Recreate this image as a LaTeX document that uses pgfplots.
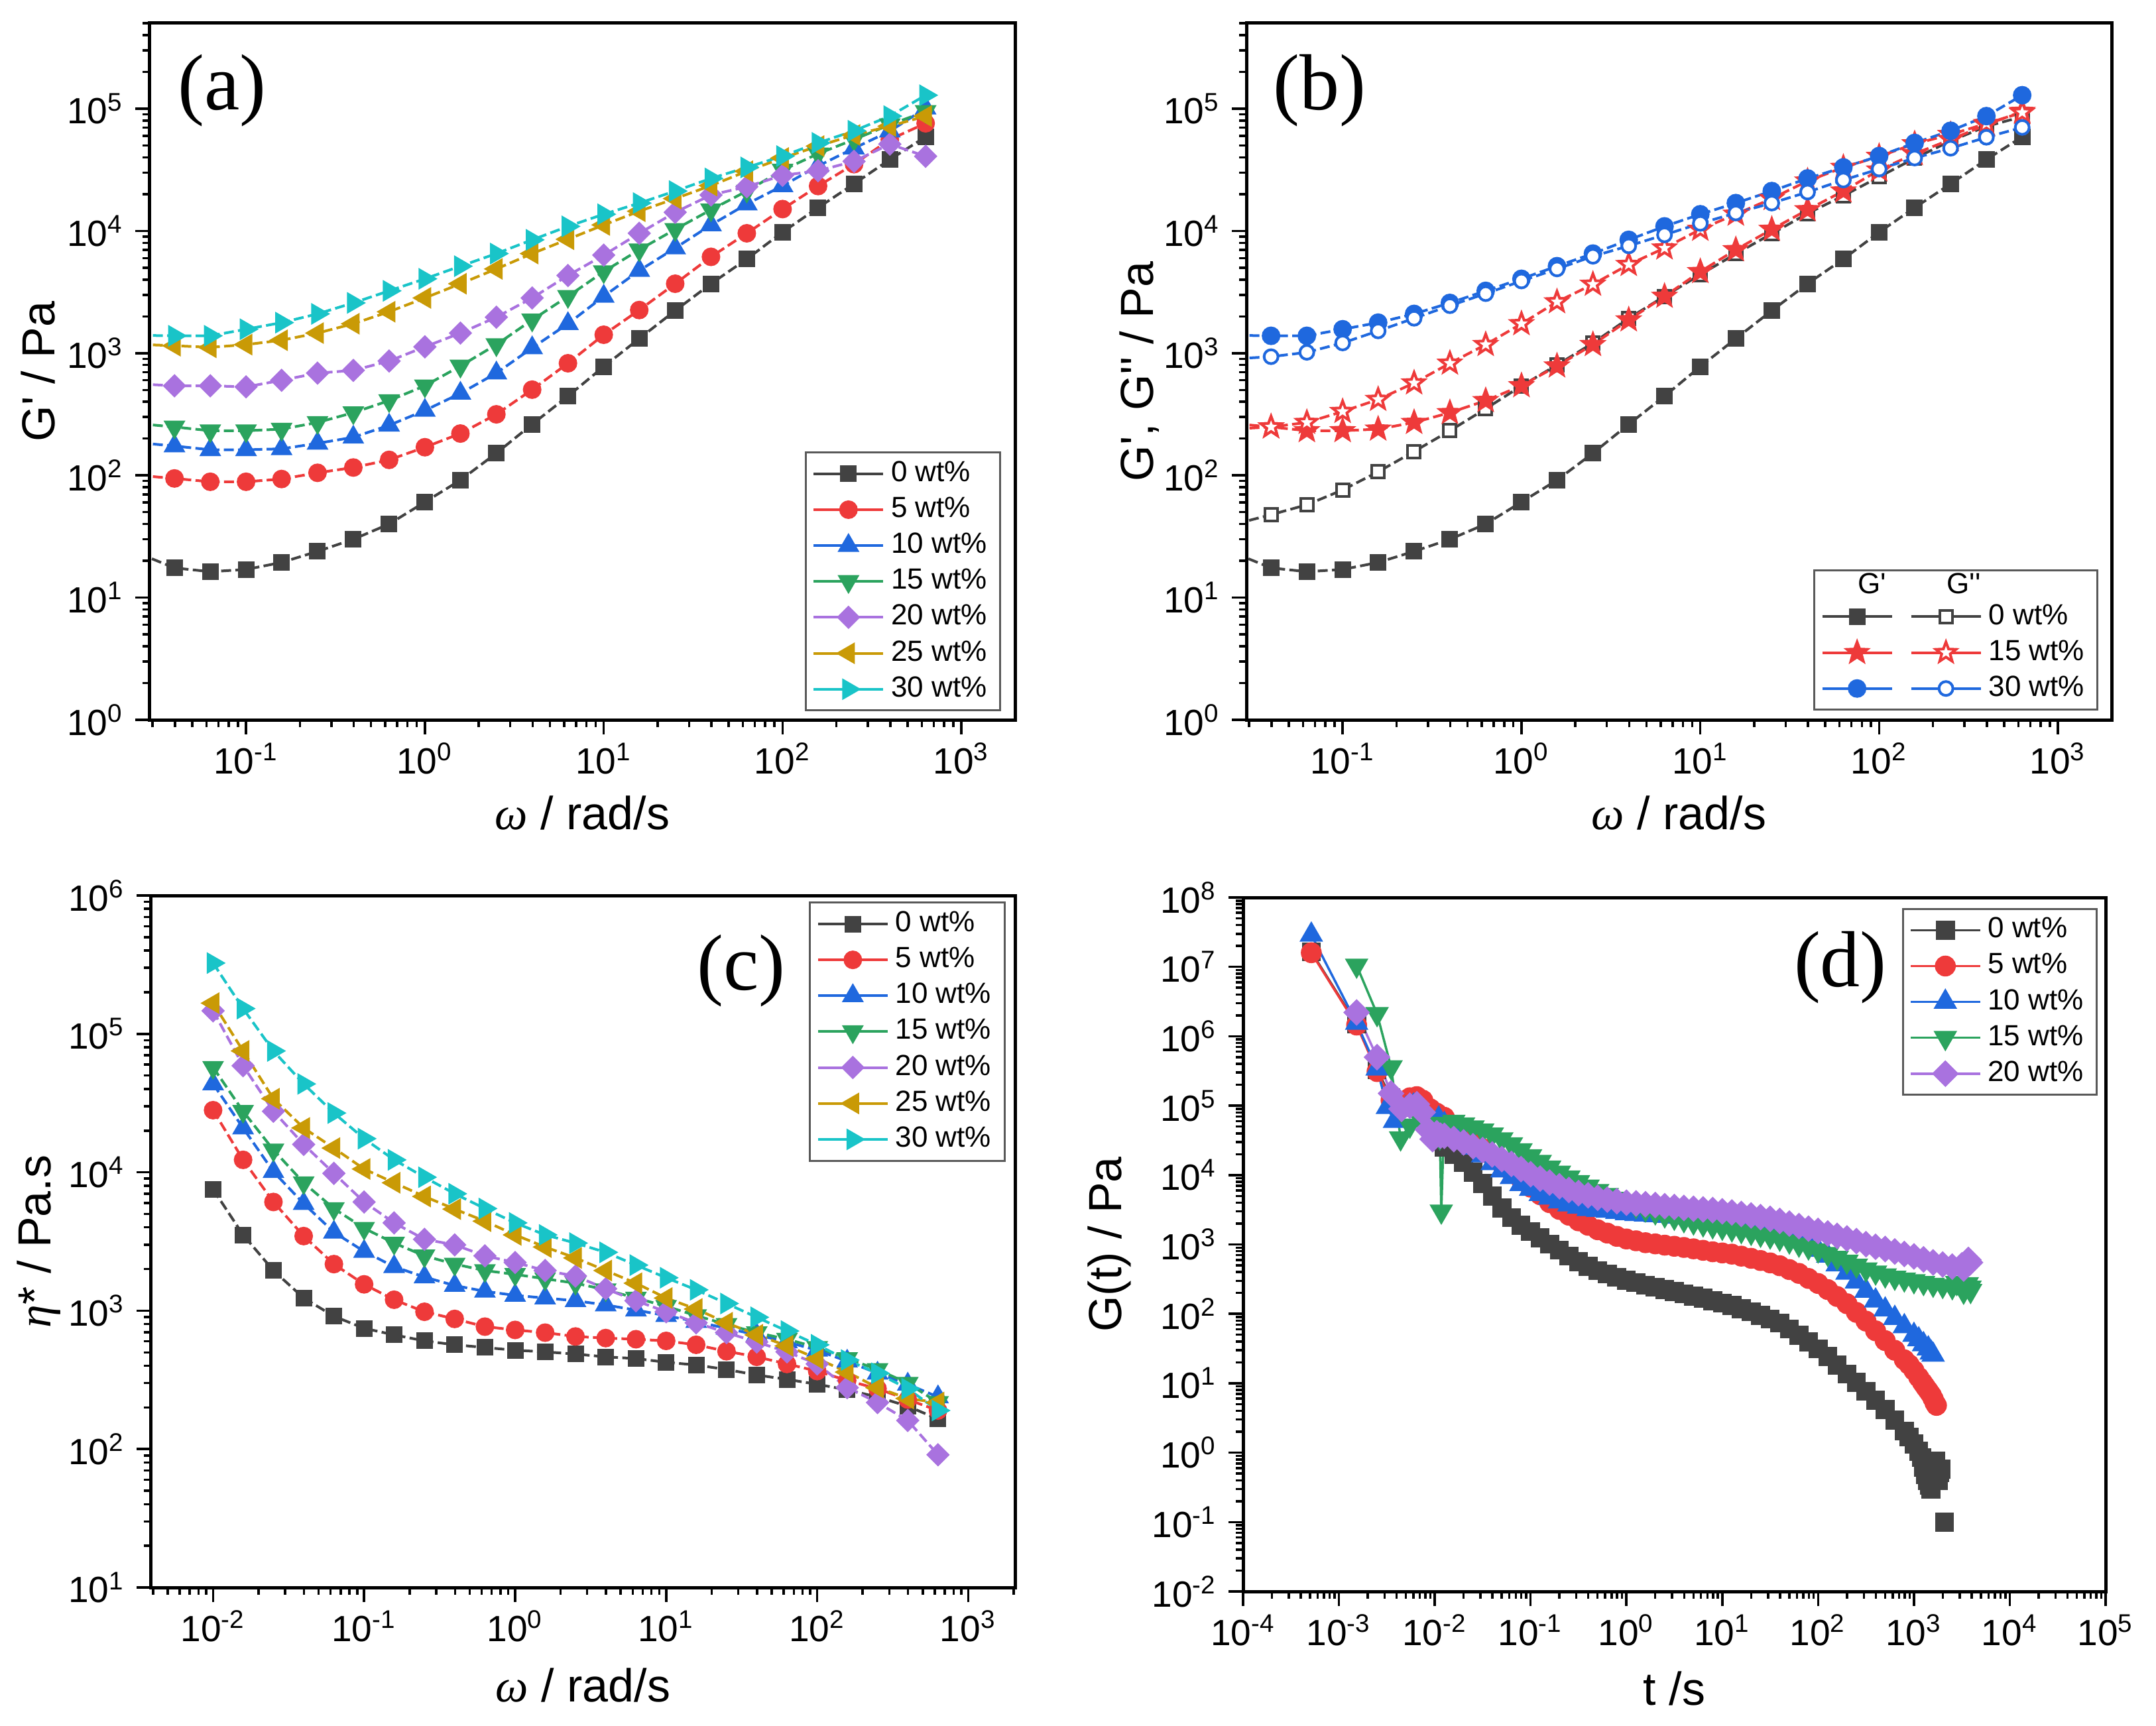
\documentclass[border=0pt]{standalone}
\usepackage{fontspec}
\setmainfont{Liberation Sans}
\newfontfamily\seriffont{Liberation Serif}
\usepackage{pgfplots}
\usepackage{pgfplotstable}
\pgfplotsset{compat=1.18}

\definecolor{cK}{HTML}{424242}
\definecolor{cR}{HTML}{EE3A3A}
\definecolor{cB}{HTML}{1F68DE}
\definecolor{cG}{HTML}{2BA35E}
\definecolor{cP}{HTML}{A972DF}
\definecolor{cY}{HTML}{C99A06}
\definecolor{cC}{HTML}{19C4C8}

\newcommand{\sx}[1]{10\textsuperscript{#1}}
\newcommand{\pr}{\textquotesingle}

\pgfdeclareplotmark{fstar}{%
  \pgfpathmoveto{\pgfpointpolar{90}{\pgfplotmarksize}}%
  \pgfpathlineto{\pgfpointpolar{126}{0.42\pgfplotmarksize}}%
  \pgfpathlineto{\pgfpointpolar{162}{\pgfplotmarksize}}%
  \pgfpathlineto{\pgfpointpolar{198}{0.42\pgfplotmarksize}}%
  \pgfpathlineto{\pgfpointpolar{234}{\pgfplotmarksize}}%
  \pgfpathlineto{\pgfpointpolar{270}{0.42\pgfplotmarksize}}%
  \pgfpathlineto{\pgfpointpolar{306}{\pgfplotmarksize}}%
  \pgfpathlineto{\pgfpointpolar{342}{0.42\pgfplotmarksize}}%
  \pgfpathlineto{\pgfpointpolar{18}{\pgfplotmarksize}}%
  \pgfpathlineto{\pgfpointpolar{54}{0.42\pgfplotmarksize}}%
  \pgfpathclose
  \pgfusepathqfillstroke}

\tikzset{
  dl/.style={line width=0.8pt, dash pattern=on 3pt off 1.3pt},
  sl/.style={line width=0.7pt, solid},
  sK/.style={color=cK, mark=square*, mark size=2.1pt, mark options={solid}},
  sR/.style={color=cR, mark=*, mark size=2.4pt, mark options={solid}},
  sB/.style={color=cB, mark=triangle*, mark size=3pt, mark options={solid}},
  sG/.style={color=cG, mark=triangle*, mark size=3pt, mark options={solid, rotate=180}},
  sP/.style={color=cP, mark=square*, mark size=2.1pt, mark options={solid, rotate=45}},
  sY/.style={color=cY, mark=triangle*, mark size=3pt, mark options={solid, rotate=90}},
  sC/.style={color=cC, mark=triangle*, mark size=3pt, mark options={solid, rotate=-90}},
  plabel/.style={font=\seriffont\fontsize{24}{27}\selectfont},
}

\pgfplotsset{
  rheo/.style={
    scale only axis,
    axis line style={line width=1pt, black},
    tick align=outside, tick pos=left,
    major tick length=4.4pt, minor tick length=2.2pt,
    every tick/.style={black, line width=0.7pt},
    tick label style={font=\fontsize{11}{12}\selectfont, black},
    xticklabel style={yshift=1pt},
    label style={font=\fontsize{14}{16}\selectfont},
    legend style={font=\fontsize{8.8}{10}\selectfont, draw=black!65, line width=0.6pt,
      inner xsep=2pt, inner ysep=1pt, cells={anchor=west},
      nodes={inner ysep=1.6pt}},
    legend image code/.code={\draw[mark repeat=2, mark phase=2, ##1, solid]
      plot coordinates {(0pt,0pt) (10.5pt,0pt) (21pt,0pt)};},
  },
}

% ---------------- panel (a): G' ----------------
\pgfplotstableread{
w      k0     k5     k10    k15    k20    k25    k30
0.0251 23     100    185    265    560    1180   1400
0.0398 17.5   94.4   174    249    541    1151   1387
0.0631 16.3   88.7   162    232    541    1116   1387
0.1    17.0   88.7   162    232    530    1175   1570
0.158  19.4   93.4   165    239    600    1276   1778
0.251  23.9   105    183    271    687    1460   2096
0.398  30     116    205    326    723    1741   2578
0.631  40     134    257    409    862    2183   3236
1.0    60.5   170    340    541    1127   2830   4060
1.58   91.5   220    469    785    1460   3700   5150
2.51   152    316    687    1175   1970   4890   6530
3.98   262    503    1104   1871   2830   6530   8460
6.31   445    827    1741   2917   4320   8550   10900
10     777    1415   2917   4645   6340   11200  13700
15.8   1316   2254   4743   7020   9570   14500  16900
25.1   2230   3700   7245   10300  14200  18400  21200
39.8   3700   6140   11200  14900  19700  23500  26900
63.1   5890   9570   16600  21200  23000  30800  33100
100    9770   15100  23400  31500  28500  39500  41000
158    15500  23300  34000  42800  31100  49500  52500
251    24300  35200  47500  56000  37100  61000  66000
398    38400  56000  65500  74000  51300  72000  87000
631    58900  76000  101000 95000  40800  87000  129000
}\tA

% ---------------- panel (b): G', G'' ----------------
\pgfplotstableread{
w      gp0    gpp0   gp15   gpp15  gp30   gpp30
0.0251 23     40     265    240    1400   900
0.0398 17.5   47.7   249    249    1387   936
0.0631 16.3   57.5   232    271    1387   1016
0.1    17.0   76     232    333    1570   1212
0.158  19.4   107    239    418    1778   1521
0.251  23.9   157    271    570    2096   1930
0.398  30     232    326    827    2578   2446
0.631  40     351    409    1175   3236   3070
1.0    60.5   540    541    1741   4060   3897
1.58   91.5   800    785    2630   5150   4890
2.51   152    1210   1175   3660   6530   6205
3.98   262    1930   1871   5310   8460   7550
6.31   445    2920   2917   7245   10900  9290
10     777    4400   4645   10300  13700  11530
15.8   1316   6500   7020   13700  16900  14030
25.1   2230   9500   10300  18400  21200  16900
39.8   3700   13900  14900  25600  26900  20800
63.1   5890   19400  21200  33100  33100  26100
100    9770   27700  31500  40700  41000  32100
158    15500  39300  42800  51600  52500  39500
251    24300  54500  56000  61500  66000  47500
398    38400  71800  74000  75700  87000  58400
631    58900  86000  95000  93000  129000 70300
}\tB

% ---------------- panel (c): eta* ----------------
\pgfplotstableread{
w      k0     k5     k10    k15    k20    k25    k30
0.01   7540   28100  43500  57300  146800 166800 325000
0.0158 3530   12300  20900  27600  58900  75300  152400
0.0251 1950   6100   10100  14500  27600  34000  75300
0.0398 1234   3460   5940   8400   15900  20900  43500
0.0631 912    2170   3690   5470   9820   14960  26800
0.1    746    1550   2680   3940   6100   10560  17500
0.158  669    1200   2080   3080   4310   8400   12300
0.251  605    982    1750   2490   3280   6690   9210
0.398  567    872    1520   2170   2990   5420   7000
0.631  542    767    1380   1950   2490   4435   5470
1.0    518    726    1290   1830   2230   3530   4310
1.58   504    694    1234   1700   1950   2885   3530
2.51   486    651    1180   1580   1780   2405   3080
3.98   464    634    1100   1415   1440   1950   2640
6.31   451    622    1010   1234   1180   1580   2135
10     424    605    921    1076   982    1234   1730
15.8   405    567    833    921    818    1028   1415
25.1   376    509    746    796    694    818    1127
39.8   343    464    669    694    594    669    896
63.1   319    412    594    622    504    557    713
100    294    366    518    542    412    451    567
158    268    313    431    451    278    360    440
251    238    273    353    376    217    278    353
398    204    228    294    299    161    232    273
631    165    190    238    217    91     217    190
}\tC

% ---------------- panel (d): G(t) ----------------
\pgfplotstableread{
t G
5.15e-4 1.65e7
1.53e-3 1.5e6
2.5e-3 3.3e5
3.5e-3 1.3e5
4.5e-3 9.5e4
5.5e-3 1.05e5
6.5e-3 1.0e5
7.5e-3 9.5e4
9e-3 7e4
1.05e-2 4e4
1.26e-2 2.55e4
1.58e-2 1.98e4
2.0e-2 1.53e4
2.51e-2 1.10e4
3.16e-2 7.6e3
3.98e-2 4.99e3
5.01e-2 3.34e3
6.31e-2 2.44e3
7.94e-2 1.90e3
0.1 1.54e3
0.126 1.25e3
0.158 1.01e3
0.2 826
0.251 678
0.316 564
0.398 486
0.501 420
0.631 376
0.794 337
1 306
1.26 281
1.58 258
2.0 241
2.51 225
3.16 210
3.98 195
5.01 181
6.31 168
7.94 155
10 143
12.6 132
15.8 119
20 107
25.1 95
31.6 84.5
39.8 73.5
50.1 60.3
63.1 49.4
79.4 39.5
100 31.5
126 24.2
158 18.2
200 13.6
251 10.3
316 7.7
398 5.7
501 4.2
631 2.96
794 2.06
891 1.69
1000 1.34
1122 1.05
1200 0.85
1260 0.62
1320 0.48
1380 0.40
1440 0.34
1500 0.30
1560 0.45
1620 0.62
1680 0.75
1740 0.55
1800 0.40
1860 0.52
1920 0.58
1960 nan
2090 0.1
}\dK

\pgfplotstableread{
t G
5.15e-4 1.6e7
1.53e-3 1.45e6
2.5e-3 3.1e5
3.5e-3 1.2e5
4.5e-3 1.1e5
5.5e-3 1.3e5
6.5e-3 1.35e5
7.5e-3 1.2e5
9e-3 9e4
1.05e-2 7.8e4
1.26e-2 6.8e4
1.58e-2 5.2e4
2.0e-2 4.1e4
2.51e-2 3.1e4
3.16e-2 2.4e4
3.98e-2 1.86e4
5.01e-2 1.45e4
6.31e-2 1.12e4
7.94e-2 8.7e3
0.1 6.7e3
0.126 5.2e3
0.158 4.0e3
0.2 3.2e3
0.251 2.64e3
0.316 2.19e3
0.398 1.89e3
0.501 1.63e3
0.631 1.46e3
0.794 1.31e3
1 1.2e3
1.26 1.13e3
1.58 1.06e3
2.0 1.02e3
2.51 977
3.16 942
3.98 906
5.01 865
6.31 824
7.94 785
10 755
12.6 726
15.8 679
20 632
25.1 587
31.6 543
39.8 494
50.1 435
63.1 383
79.4 324
100 274
126 224
158 178
200 140
251 105
316 78.7
398 57
501 41.2
631 29.9
794 21.8
891 18.6
1000 15.3
1122 12.2
1230 10.2
1318 8.9
1413 7.8
1514 6.8
1585 6.0
1660 5.2
1718 4.8
}\dR

\pgfplotstableread{
t G
5.15e-4 2.9e7
1.53e-3 1.55e6
2.5e-3 3.4e5
3.2e-3 9.5e4
3.8e-3 6e4
5e-3 9e4
6e-3 1.0e5
7e-3 9e4
9.3e-3 5.9e4
1.1e-2 6.5e4
1.26e-2 5.4e4
1.58e-2 4.1e4
2.0e-2 3.2e4
2.51e-2 2.47e4
3.16e-2 1.91e4
3.98e-2 1.48e4
5.01e-2 1.16e4
6.31e-2 9.3e3
7.94e-2 7.4e3
0.1 6.3e3
0.126 5.3e3
0.158 4.7e3
0.2 4.15e3
0.251 3.76e3
0.316 3.47e3
0.398 3.22e3
0.501 3.13e3
0.631 3.04e3
0.794 2.93e3
1 2.81e3
1.26 2.73e3
1.58 2.68e3
2.0 2.63e3
2.51 2.57e3
3.16 2.5e3
3.98 2.43e3
5.01 2.34e3
6.31 2.28e3
7.94 2.2e3
10 2.14e3
12.6 2.07e3
15.8 2.0e3
20 1.87e3
25.1 1.77e3
31.6 1.66e3
39.8 1.49e3
50.1 1.34e3
63.1 1.21e3
79.4 1.0e3
100 832
126 687
158 513
200 389
251 292
316 214
398 155
501 115
631 87
794 66
1000 49.5
1122 42.7
1259 36.3
1413 31.6
1514 27.5
1585 25.7
}\dB

\pgfplotstableread{
t G
1.53e-3 1.05e7
2.5e-3 2.1e6
3.5e-3 3.6e5
4.4e-3 3.4e4
5.5e-3 5.2e4
7e-3 6.5e4
9e-3 5.5e4
1.13e-2 3.5e4
1.17e-2 3.0e3
1.25e-2 5.5e4
1.58e-2 5.9e4
2.0e-2 5.4e4
2.51e-2 4.9e4
3.16e-2 4.4e4
3.98e-2 3.86e4
5.01e-2 3.3e4
6.31e-2 2.79e4
7.94e-2 2.29e4
0.1 1.88e4
0.126 1.56e4
0.158 1.29e4
0.2 1.09e4
0.251 9.3e3
0.316 7.96e3
0.398 6.87e3
0.501 5.93e3
0.631 5.2e3
0.794 4.58e3
1 4.06e3
1.26 3.6e3
1.58 3.22e3
2.0 2.92e3
2.51 2.64e3
3.16 2.44e3
3.98 2.25e3
5.01 2.09e3
6.31 1.96e3
7.94 1.84e3
10 1.75e3
12.6 1.66e3
15.8 1.57e3
20 1.48e3
25.1 1.39e3
31.6 1.31e3
39.8 1.22e3
50.1 1.11e3
63.1 1.0e3
79.4 910
100 826
126 735
158 646
200 568
251 500
316 440
398 397
501 360
631 334
794 315
1000 297
1259 280
1585 264
1995 254
2512 244
2800 280
3162 240
3300 210
3600 270
3846 240
3900 215
}\dG

\pgfplotstableread{
t G
1.53e-3 2.2e6
2.5e-3 5.0e5
3.5e-3 1.5e5
4.5e-3 9e4
5.5e-3 1.0e5
6.5e-3 1.05e5
7.5e-3 8e4
8.5e-3 4.5e4
9.5e-3 3.3e4
1.05e-2 4e4
1.15e-2 3.7e4
1.26e-2 3.67e4
1.58e-2 3.3e4
2.0e-2 2.95e4
2.51e-2 2.6e4
3.16e-2 2.29e4
3.98e-2 1.98e4
5.01e-2 1.7e4
6.31e-2 1.45e4
7.94e-2 1.22e4
0.1 1.03e4
0.126 8.9e3
0.158 7.8e3
0.2 6.9e3
0.251 6.1e3
0.316 5.5e3
0.398 5.1e3
0.501 4.7e3
0.631 4.43e3
0.794 4.2e3
1 4.0e3
1.26 3.9e3
1.58 3.8e3
2.0 3.7e3
2.51 3.57e3
3.16 3.47e3
3.98 3.36e3
5.01 3.27e3
6.31 3.2e3
7.94 3.13e3
10 3.0e3
12.6 2.89e3
15.8 2.75e3
20 2.62e3
25.1 2.48e3
31.6 2.34e3
39.8 2.18e3
50.1 2.0e3
63.1 1.84e3
79.4 1.69e3
100 1.57e3
126 1.44e3
158 1.33e3
200 1.22e3
251 1.12e3
316 1.01e3
398 927
501 860
631 792
794 730
1000 673
1259 610
1585 552
1995 515
2512 480
3162 500
3300 450
3500 540
3700 600
3846 550
}\dP

\begin{document}
\begin{tikzpicture}
\fill[white] (0,0) rectangle (650.4pt,520.6pt);
\path[use as bounding box] (0,0) rectangle (650.4pt,520.6pt);

% ===== (a) =====
\begin{loglogaxis}[rheo, at={(45.2pt,303.4pt)}, anchor=south west,
  width=261pt, height=210.2pt,
  xmin=0.02897, xmax=1995, ymin=1, ymax=5.01e5,
  xtick={1e-1,1e0,1e1,1e2,1e3},
  xticklabels={\sx{-1},\sx{0},\sx{1},\sx{2},\sx{3}},
  minor xtick={3e-2,4e-2,5e-2,6e-2,7e-2,8e-2,9e-2,2e-1,3e-1,4e-1,5e-1,6e-1,7e-1,8e-1,9e-1,2,3,4,5,6,7,8,9,20,30,40,50,60,70,80,90,200,300,400,500,600,700,800,900},
  ytick={1e0,1e1,1e2,1e3,1e4,1e5},
  yticklabels={\sx{0},\sx{1},\sx{2},\sx{3},\sx{4},\sx{5}},
  minor ytick={2,3,4,5,6,7,8,9,20,30,40,50,60,70,80,90,200,300,400,500,600,700,800,900,2e3,3e3,4e3,5e3,6e3,7e3,8e3,9e3,2e4,3e4,4e4,5e4,6e4,7e4,8e4,9e4,2e5,3e5,4e5,5e5},
  xlabel={{\seriffont\itshape ω} / rad/s},
  ylabel={G\pr{} / Pa},
  xlabel style={at={(axis description cs:0.5,-0.134)}, anchor=center},
  ylabel style={at={(axis description cs:-0.129,0.5)}, anchor=center},
  legend style={at={(0.984,0.012)}, anchor=south east},
]
\addplot[sK, dl] table[x=w,y=k0]{\tA}; \addlegendentry{0 wt\%}
\addplot[sR, dl] table[x=w,y=k5]{\tA}; \addlegendentry{5 wt\%}
\addplot[sB, dl] table[x=w,y=k10]{\tA}; \addlegendentry{10 wt\%}
\addplot[sG, dl] table[x=w,y=k15]{\tA}; \addlegendentry{15 wt\%}
\addplot[sP, dl] table[x=w,y=k20]{\tA}; \addlegendentry{20 wt\%}
\addplot[sY, dl] table[x=w,y=k25]{\tA}; \addlegendentry{25 wt\%}
\addplot[sC, dl] table[x=w,y=k30]{\tA}; \addlegendentry{30 wt\%}
\node[plabel] at (axis description cs:0.0835,0.903) {(a)};
\end{loglogaxis}

% ===== (b) =====
\begin{loglogaxis}[rheo, at={(376pt,303.4pt)}, anchor=south west,
  width=261pt, height=210.2pt,
  xmin=0.02897, xmax=1995, ymin=1, ymax=5.01e5,
  xtick={1e-1,1e0,1e1,1e2,1e3},
  xticklabels={\sx{-1},\sx{0},\sx{1},\sx{2},\sx{3}},
  minor xtick={3e-2,4e-2,5e-2,6e-2,7e-2,8e-2,9e-2,2e-1,3e-1,4e-1,5e-1,6e-1,7e-1,8e-1,9e-1,2,3,4,5,6,7,8,9,20,30,40,50,60,70,80,90,200,300,400,500,600,700,800,900},
  ytick={1e0,1e1,1e2,1e3,1e4,1e5},
  yticklabels={\sx{0},\sx{1},\sx{2},\sx{3},\sx{4},\sx{5}},
  minor ytick={2,3,4,5,6,7,8,9,20,30,40,50,60,70,80,90,200,300,400,500,600,700,800,900,2e3,3e3,4e3,5e3,6e3,7e3,8e3,9e3,2e4,3e4,4e4,5e4,6e4,7e4,8e4,9e4,2e5,3e5,4e5,5e5},
  xlabel={{\seriffont\itshape ω} / rad/s},
  ylabel={G\pr, G\pr\pr{} / Pa},
  xlabel style={at={(axis description cs:0.5,-0.134)}, anchor=center},
  ylabel style={at={(axis description cs:-0.124,0.5)}, anchor=center},
  legend columns=2,
  legend style={at={(0.985,0.013)}, anchor=south east,
    /tikz/every even column/.append style={column sep=1pt}},
]
\addlegendimage{legend image code/.code={\node[font=\fontsize{8.8}{10}\selectfont, inner sep=0pt] at (10.5pt,0pt) {G\pr};}}
\addlegendentry{}
\addlegendimage{legend image code/.code={\node[font=\fontsize{8.8}{10}\selectfont, inner sep=0pt] at (10.5pt,0pt) {G\pr\pr};}}
\addlegendentry{}
\addplot[sK, dl] table[x=w,y=gp0]{\tB}; \addlegendentry{}
\addplot[sK, dl, mark size=1.9pt, mark options={solid, fill=white}] table[x=w,y=gpp0]{\tB}; \addlegendentry{0 wt\%}
\addplot[color=cR, dl, mark=fstar, mark size=3.2pt, mark options={solid}] table[x=w,y=gp15]{\tB}; \addlegendentry{}
\addplot[color=cR, dl, mark=fstar, mark size=3.2pt, mark options={solid, fill=white}] table[x=w,y=gpp15]{\tB}; \addlegendentry{15 wt\%}
\addplot[color=cB, dl, mark=*, mark size=2.4pt, mark options={solid}] table[x=w,y=gp30]{\tB}; \addlegendentry{}
\addplot[color=cB, dl, mark=*, mark size=2.1pt, mark options={solid, fill=white}] table[x=w,y=gpp30]{\tB}; \addlegendentry{30 wt\%}
\node[plabel] at (axis description cs:0.085,0.903) {(b)};
\end{loglogaxis}

% ===== (c) =====
\begin{loglogaxis}[rheo, at={(45.6pt,41.6pt)}, anchor=south west,
  width=260.6pt, height=208.8pt,
  xmin=0.00389, xmax=2042, ymin=10, ymax=1e6,
  xtick={1e-2,1e-1,1e0,1e1,1e2,1e3},
  xticklabels={\sx{-2},\sx{-1},\sx{0},\sx{1},\sx{2},\sx{3}},
  minor xtick={4e-3,5e-3,6e-3,7e-3,8e-3,9e-3,2e-2,3e-2,4e-2,5e-2,6e-2,7e-2,8e-2,9e-2,2e-1,3e-1,4e-1,5e-1,6e-1,7e-1,8e-1,9e-1,2,3,4,5,6,7,8,9,20,30,40,50,60,70,80,90,200,300,400,500,600,700,800,900,2000},
  ytick={1e1,1e2,1e3,1e4,1e5,1e6},
  yticklabels={\sx{1},\sx{2},\sx{3},\sx{4},\sx{5},\sx{6}},
  minor ytick={20,30,40,50,60,70,80,90,200,300,400,500,600,700,800,900,2e3,3e3,4e3,5e3,6e3,7e3,8e3,9e3,2e4,3e4,4e4,5e4,6e4,7e4,8e4,9e4,2e5,3e5,4e5,5e5,6e5,7e5,8e5,9e5},
  xlabel={{\seriffont\itshape ω} / rad/s},
  ylabel={{\seriffont\itshape η}* / Pa.s},
  xlabel style={at={(axis description cs:0.5,-0.141)}, anchor=center},
  ylabel style={at={(axis description cs:-0.130,0.5)}, anchor=center},
  legend style={at={(0.989,0.991)}, anchor=north east},
]
\addplot[sK, dl] table[x=w,y=k0]{\tC}; \addlegendentry{0 wt\%}
\addplot[sR, dl] table[x=w,y=k5]{\tC}; \addlegendentry{5 wt\%}
\addplot[sB, dl] table[x=w,y=k10]{\tC}; \addlegendentry{10 wt\%}
\addplot[sG, dl] table[x=w,y=k15]{\tC}; \addlegendentry{15 wt\%}
\addplot[sP, dl] table[x=w,y=k20]{\tC}; \addlegendentry{20 wt\%}
\addplot[sY, dl] table[x=w,y=k25]{\tC}; \addlegendentry{25 wt\%}
\addplot[sC, dl] table[x=w,y=k30]{\tC}; \addlegendentry{30 wt\%}
\node[plabel] at (axis description cs:0.683,0.891) {(c)};
\end{loglogaxis}

% ===== (d) =====
\begin{loglogaxis}[rheo, at={(375pt,40.4pt)}, anchor=south west,
  width=260.2pt, height=209.4pt,
  xmin=1e-4, xmax=1e5, ymin=1e-2, ymax=1e8,
  unbounded coords=jump,
  xtick={1e-4,1e-3,1e-2,1e-1,1e0,1e1,1e2,1e3,1e4,1e5},
  xticklabels={\sx{-4},\sx{-3},\sx{-2},\sx{-1},\sx{0},\sx{1},\sx{2},\sx{3},\sx{4},\sx{5}},
  minor xtick={2e-4,3e-4,4e-4,5e-4,6e-4,7e-4,8e-4,9e-4,2e-3,3e-3,4e-3,5e-3,6e-3,7e-3,8e-3,9e-3,2e-2,3e-2,4e-2,5e-2,6e-2,7e-2,8e-2,9e-2,2e-1,3e-1,4e-1,5e-1,6e-1,7e-1,8e-1,9e-1,2,3,4,5,6,7,8,9,20,30,40,50,60,70,80,90,200,300,400,500,600,700,800,900,2e3,3e3,4e3,5e3,6e3,7e3,8e3,9e3,2e4,3e4,4e4,5e4,6e4,7e4,8e4,9e4},
  ytick={1e-2,1e-1,1e0,1e1,1e2,1e3,1e4,1e5,1e6,1e7,1e8},
  yticklabels={\sx{-2},\sx{-1},\sx{0},\sx{1},\sx{2},\sx{3},\sx{4},\sx{5},\sx{6},\sx{7},\sx{8}},
  minor ytick={2e-2,3e-2,4e-2,5e-2,6e-2,7e-2,8e-2,9e-2,2e-1,3e-1,4e-1,5e-1,6e-1,7e-1,8e-1,9e-1,2,3,4,5,6,7,8,9,20,30,40,50,60,70,80,90,200,300,400,500,600,700,800,900,2e3,3e3,4e3,5e3,6e3,7e3,8e3,9e3,2e4,3e4,4e4,5e4,6e4,7e4,8e4,9e4,2e5,3e5,4e5,5e5,6e5,7e5,8e5,9e5,2e6,3e6,4e6,5e6,6e6,7e6,8e6,9e6,2e7,3e7,4e7,5e7,6e7,7e7,8e7,9e7},
  xlabel={t /s},
  ylabel={G(t) / Pa},
  xlabel style={at={(axis description cs:0.5,-0.14)}, anchor=center},
  ylabel style={at={(axis description cs:-0.155,0.5)}, anchor=center},
  legend style={at={(0.991,0.985)}, anchor=north east},
]
\addplot[sK, sl, mark size=2.5pt] table[x=t,y=G]{\dK}; \addlegendentry{0 wt\%}
\addplot[sR, sl, mark size=2.8pt] table[x=t,y=G]{\dR}; \addlegendentry{5 wt\%}
\addplot[sB, sl, mark size=3.4pt] table[x=t,y=G]{\dB}; \addlegendentry{10 wt\%}
\addplot[sG, sl, mark size=3.4pt] table[x=t,y=G]{\dG}; \addlegendentry{15 wt\%}
\addplot[sP, sl, mark size=2.5pt] table[x=t,y=G]{\dP}; \addlegendentry{20 wt\%}
\node[plabel] at (axis description cs:0.6925,0.899) {(d)};
\end{loglogaxis}
\end{tikzpicture}
\end{document}
